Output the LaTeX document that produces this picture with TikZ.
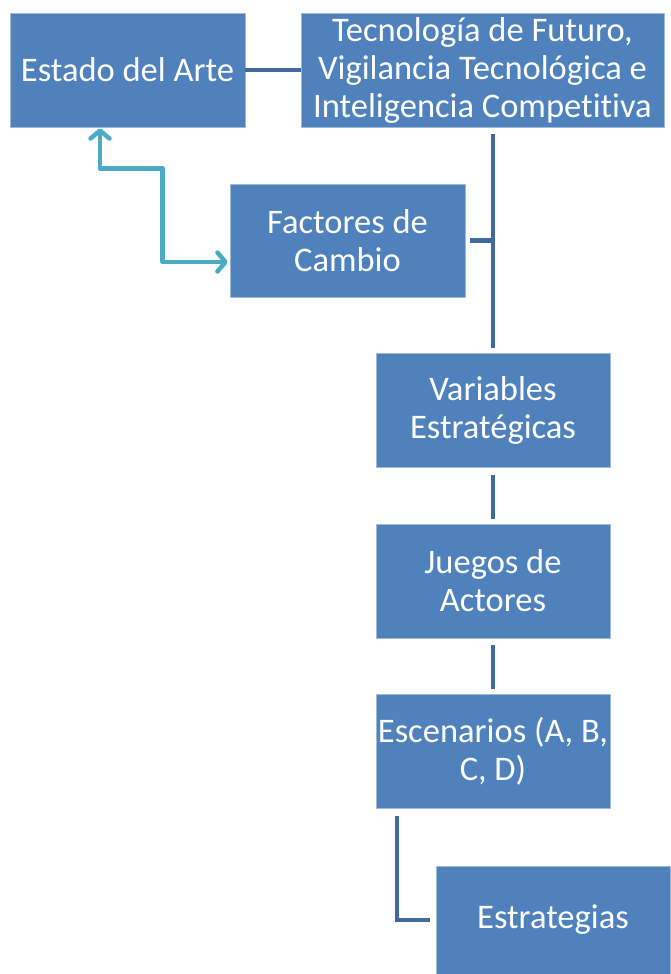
\documentclass[tikz,border=0pt]{standalone}
\usepackage{fontspec}
\setmainfont{Carlito}[RawFeature=-liga]
\usetikzlibrary{positioning, calc, arrows.meta}
\definecolor{boxblue}{HTML}{4F81BD}
\definecolor{linkblue}{HTML}{41699E}
\definecolor{loopteal}{HTML}{4BACC6}
\tikzset{
    %Define style for boxes
    box/.style={
           rectangle,
           draw=boxblue!55!white, line width=0.6pt,
           fill=boxblue,
           text=white,
           inner sep=0pt,
           minimum width=235pt,
           minimum height=114pt,
           align=center,
           font=\fontsize{34.5}{38}\selectfont},
 %
    % Define connector style
    link/.style={
           -,
           draw=linkblue,
           line width=4.5pt},
 %
    backlink/.style={
           {Straight Barb[length=8pt,width=19pt,round]}-{Straight Barb[length=8pt,width=19pt,round]},
           draw=loopteal,
           line width=4.5pt,
           line join=round}
}
\begin{document}
\begin{tikzpicture}[x=1pt,y=-1pt]
  \useasboundingbox (0,0) rectangle (670,974);
  \node[box] (estado) at (127.5,70) {Estado del Arte};
  \node[box, minimum width=363pt] (tec) at (482.5,70) {Tecnología de Futuro,\\ Vigilancia Tecnológica e\\ Inteligencia Competitiva};
  \node[box, minimum height=113pt] (factores) at (347.5,240.5) {Factores de\\ Cambio};
  \node[box, minimum width=234pt] (variables) at (493,410.5) {Variables\\ Estratégicas};
  \node[box, minimum width=234pt] (juegos) at (493,581) {Juegos de\\ Actores};
  \node[box, minimum width=234pt] (escenarios) at (493,751.5) {Escenarios (A, B,\\ C, D)};
  \node[box, minimum width=234pt, minimum height=108pt] (estrategias) at (553,920) {Estrategias};
  \path[link]
    (estado.east) edge (tec.west)
    ([yshift=-7pt]variables.north |- tec.south) edge ([yshift=5pt]variables.north)
    ([xshift=5pt]factores.east) edge ([xshift=2.25pt]factores.east -| variables.north)
    ([yshift=-7pt]variables.south) edge ([yshift=5pt]juegos.north)
    ([yshift=-7pt]juegos.south) edge ([yshift=5pt]escenarios.north);
  \draw[link] ([xshift=-96pt,yshift=-7pt]escenarios.south) |- ([xshift=-6pt]estrategias.west);
  \draw[backlink, shorten <=1pt, shorten >=2pt] ([xshift=-27.5pt]estado.south) -- ++(0,41)
     -| ([xshift=-67pt,yshift=-21.5pt]factores.west) -- ([yshift=-21.5pt]factores.west);
\end{tikzpicture}
\end{document}
